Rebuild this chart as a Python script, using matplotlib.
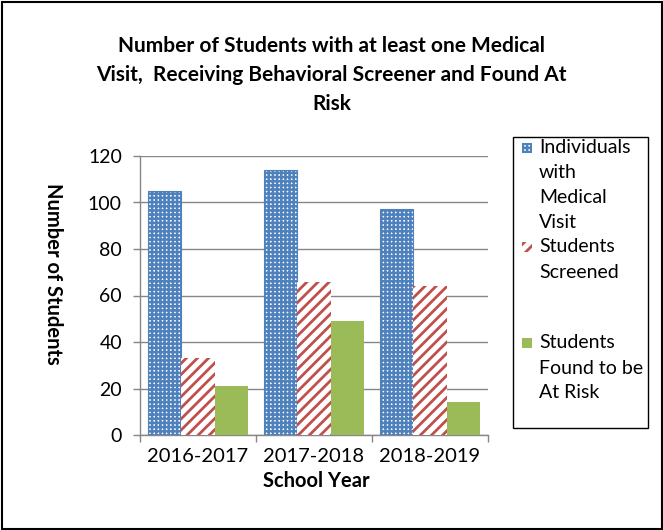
import numpy as np
import matplotlib
matplotlib.use('Agg')
import matplotlib.pyplot as plt
from matplotlib.patches import Rectangle

years = ['2016-2017', '2017-2018', '2018-2019']
medical_visit = [105, 114, 97]
screened = [33, 66, 64]
at_risk = [21, 49, 14]
series_names = ['Individuals\nwith\nMedical\nVisit', 'Students\nScreened', 'Students\nFound to be\nAt Risk']

plt.rcParams['font.family'] = ['Lato', 'DejaVu Sans']
plt.rcParams['font.size'] = 14

W, H = 663, 530
fig = plt.figure(figsize=(W / 100, H / 100), dpi=100)
ax = fig.add_axes([140 / W, 95 / H, 348 / W, 279 / H])

grey = '#868686'
blue = '#4F81BD'
red = '#C0504D'
green = '#9BBB59'

x = np.arange(len(years))
w = 0.285

# bar styles: (values, face, edge, hatch, hatch lw, edge lw)
styles = [
    (medical_visit, 'white', blue, '++++', 1.8, 0.8),
    (screened, 'white', red, '///', 2.0, 0),
    (at_risk, green, green, None, 1.0, 0),
]
for i, (vals, fc, ec, hatch, hlw, elw) in enumerate(styles):
    with plt.rc_context({'hatch.linewidth': hlw}):
        ax.bar(x + (i - 1) * w, vals, width=w, facecolor=fc, edgecolor=ec,
               hatch=hatch, linewidth=elw, zorder=3)

ax.set_xlim(-0.5, 2.5)
ax.set_ylim(0, 120)
ax.set_yticks(range(0, 121, 20))
ax.set_xticks(x)
ax.set_xticklabels(years, fontsize=14.5)
ax.set_xticks([-0.5, 0.5, 1.5, 2.5], minor=True)
ax.tick_params(axis='x', which='major', length=0, pad=9)
ax.tick_params(axis='x', which='minor', length=5, color=grey, width=1)
ax.tick_params(axis='y', length=5, color=grey, width=1, pad=8)
ax.grid(axis='y', color=grey, linewidth=1, zorder=0)
ax.set_axisbelow(True)
for s in ['top', 'right']:
    ax.spines[s].set_visible(False)
for s in ['left', 'bottom']:
    ax.spines[s].set_color(grey)
    ax.spines[s].set_linewidth(1)

# titles and labels
fig.text(0.5, 1 - 75 / H, 'Number of Students with at least one Medical\n'
         'Visit,  Receiving Behavioral Screener and Found At\nRisk',
         ha='center', va='center', fontweight='bold', fontsize=15, linespacing=1.55)
fig.text(53 / W, 1 - 274 / H, 'Number of Students', rotation=-90,
         ha='center', va='center', fontweight='bold', fontsize=14.5)
fig.text(316 / W, 1 - 481 / H, 'School Year', ha='center', va='center',
         fontweight='bold', fontsize=14.5)

# legend drawn by hand to keep markers on the first line
fig.patches.append(Rectangle((513 / W, 1 - 428 / H), 135 / W, 291 / H,
                             transform=fig.transFigure, facecolor='white',
                             edgecolor='black', linewidth=1))
entry_top = [148, 247, 343]
for i, (name, st) in enumerate(zip(series_names, styles)):
    vals, fc, ec, hatch, hlw, elw = st
    yc = entry_top[i]
    with plt.rc_context({'hatch.linewidth': hlw}):
        fig.patches.append(Rectangle((522 / W, 1 - (yc + 5) / H), 10 / W, 10 / H,
                                     transform=fig.transFigure, facecolor=fc,
                                     edgecolor=ec, hatch=hatch, linewidth=0))
    for j, line in enumerate(name.split('\n')):
        fig.text(539 / W, 1 - (yc + 25 * j) / H, line, ha='left', va='center',
                 fontsize=14)

# outer border
fig.patches.append(Rectangle((1.5 / W, 1.5 / H), (W - 3) / W, (H - 3) / H,
                             transform=fig.transFigure, fill=False,
                             edgecolor='black', linewidth=1.5))

fig.savefig('out.png', dpi=100)
